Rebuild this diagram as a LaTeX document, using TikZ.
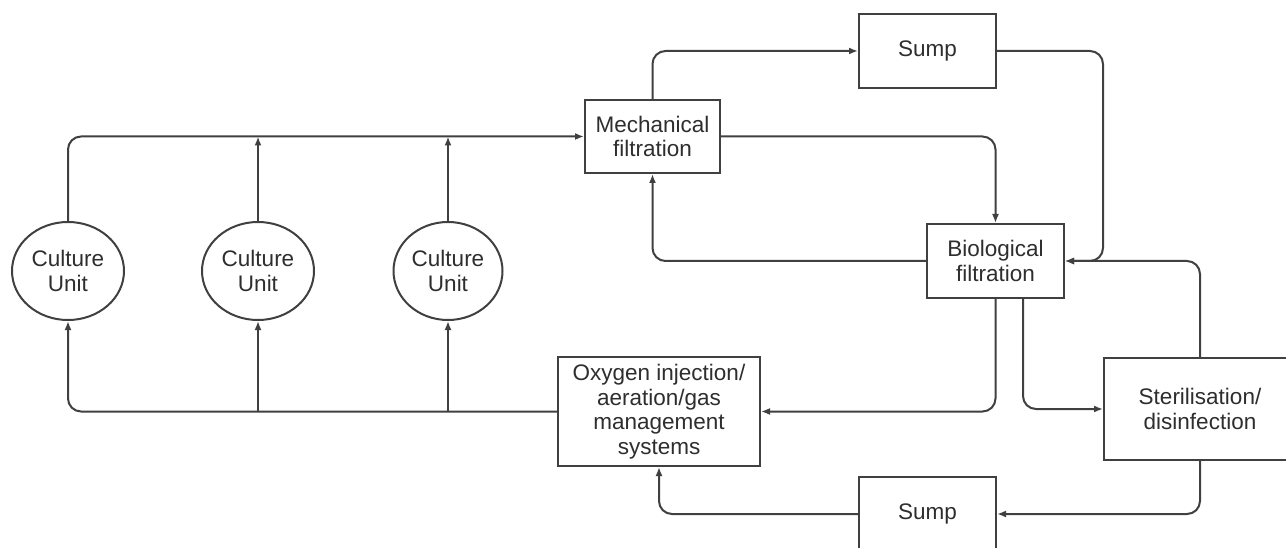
\documentclass[tikz,border=0pt]{standalone}
\usepackage{fontspec}
\setmainfont{Liberation Sans}
\usetikzlibrary{arrows.meta,shapes.geometric}
\definecolor{ln}{HTML}{404040}
\definecolor{tx}{HTML}{2E2E2E}
\begin{document}
\begin{tikzpicture}[x=1pt,y=-1pt,
  every node/.style={font=\fontsize{22.5}{24.5}\selectfont, text=tx, align=center, inner sep=0pt},
  boxnode/.style={draw=ln, line width=2pt, rectangle},
  cunit/.style={draw=ln, line width=2pt, ellipse, minimum width=112pt, minimum height=98pt},
  conn/.style={draw=ln, line width=2pt, rounded corners=13pt, -{Latex[length=9pt,width=7pt]}}
]
\useasboundingbox (0,0) rectangle (1286,548);
\fill[white] (0,0) rectangle (1286,548);

\node[cunit] (cu1) at (68,271) {Culture\\Unit};
\node[cunit] (cu2) at (258,271) {Culture\\Unit};
\node[cunit, minimum width=109pt] (cu3) at (448,271) {Culture\\Unit};

\node[boxnode, minimum width=135pt, minimum height=73pt] (mech) at (652.5,136.5) {Mechanical\\filtration};
\node[boxnode, minimum width=137pt, minimum height=74pt] (sumpt) at (927.5,51) {Sump};
\node[boxnode, minimum width=137pt, minimum height=74pt] (bio) at (995.5,261) {Biological\\filtration};
\node[boxnode, minimum width=202pt, minimum height=109pt] (oxy) at (659,411.5) {Oxygen injection/\\aeration/gas\\management\\systems};
\node[boxnode, minimum width=192pt, minimum height=102pt] (ster) at (1200,409) {Sterilisation/\\disinfection};
\node[boxnode, minimum width=137pt, minimum height=74pt] (sumpb) at (927.5,514) {Sump};

\coordinate (j1) at (1103,261);
\coordinate (b2) at (1023,298);

% culture units to mechanical filtration
\draw[conn] (cu1.north) |- (mech.west);
\draw[conn] (cu2.north) -- (cu2.north |- mech.west);
\draw[conn] (cu3.north) -- (cu3.north |- mech.west);

% mechanical filtration outputs
\draw[conn] (mech.north) |- (sumpt.west);
\draw[conn] (mech.east) -| (bio.north);
\draw[conn] (bio.west) -| (mech.south);

% sump to biological filtration
\draw[conn] (sumpt.east) -| (j1) -- (bio.east);
\draw[conn] (ster.north) |- (bio.east);

% biological filtration outputs
\draw[conn] (bio.south) |- (oxy.east);
\draw[conn] (b2) |- (ster.west);

% sterilisation to sump to oxygen
\draw[conn] (ster.south) |- (sumpb.east);
\draw[conn] (sumpb.west) -| (oxy.south);

% oxygen to culture units
\draw[conn] (oxy.west) -| (cu1.south);
\draw[conn] (cu2.south |- oxy.west) -- (cu2.south);
\draw[conn] (cu3.south |- oxy.west) -- (cu3.south);
\end{tikzpicture}
\end{document}
